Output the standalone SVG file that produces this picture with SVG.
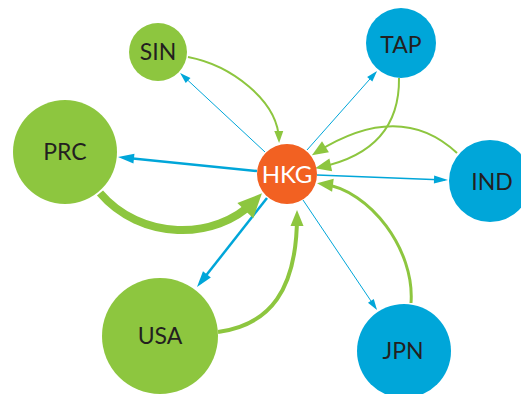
<svg xmlns="http://www.w3.org/2000/svg" width="521" height="394" viewBox="0 0 521 394">
<style>
.g{fill:#8dc63f}
.b{fill:#00a6d9}
.o{fill:#f26122}
text{font-family:Lato,"Open Sans","Liberation Sans",sans-serif;font-size:23px;text-anchor:middle;fill:#231f20}
.w{fill:#ffffff;font-size:24px}
.bl{fill:none;stroke:#00a6d9}
.gl{fill:none;stroke:#8dc63f}
</style>
<defs>
<marker id="bs" markerUnits="userSpaceOnUse" markerWidth="12" markerHeight="8" refX="9" refY="3.5" orient="auto" overflow="visible"><path d="M0,0 L11,3.5 L0,7 z" fill="#00a6d9"/></marker>
<marker id="bm" markerUnits="userSpaceOnUse" markerWidth="15" markerHeight="9" refX="11" refY="4" orient="auto" overflow="visible"><path d="M0,0 L14,4 L0,8 z" fill="#00a6d9"/></marker>
<marker id="bb" markerUnits="userSpaceOnUse" markerWidth="17" markerHeight="11" refX="11" refY="5" orient="auto" overflow="visible"><path d="M0,0 L16,5 L0,10 z" fill="#00a6d9"/></marker>
<marker id="gs" markerUnits="userSpaceOnUse" markerWidth="13" markerHeight="10" refX="9" refY="4.5" orient="auto" overflow="visible"><path d="M0,0 L12,4.5 L0,9 z" fill="#8dc63f"/></marker>
<marker id="gm" markerUnits="userSpaceOnUse" markerWidth="17" markerHeight="14" refX="10" refY="6.5" orient="auto" overflow="visible"><path d="M0,0 L16,6.5 L0,13 z" fill="#8dc63f"/></marker>
<marker id="gb" markerUnits="userSpaceOnUse" markerWidth="25" markerHeight="23" refX="14" refY="11" orient="auto" overflow="visible"><path d="M0,0 L24,11 L0,22 z" fill="#8dc63f"/></marker>
</defs>
<g id="connectors">
<path class="bl" stroke-width="1" d="M265,152 L181.5,74.4" marker-end="url(#bs)"/>
<path class="bl" stroke-width="2.5" d="M257,171 L123,157.5" marker-end="url(#bb)"/>
<path class="bl" stroke-width="1" d="M307,150 L375.7,72.5" marker-end="url(#bs)"/>
<path class="bl" stroke-width="1.5" d="M317,175 L445,179.9" marker-end="url(#bm)"/>
<path class="bl" stroke-width="1" d="M303,200 L375.9,308.3" marker-end="url(#bs)"/>
<path class="bl" stroke-width="2.5" d="M267,198 L200.1,283.1" marker-end="url(#bb)"/>
<path class="gl" stroke-width="2" d="M188,57 C230,65 278,100 279,140" marker-end="url(#gs)"/>
<path class="gl" stroke-width="2" d="M399,78 Q400,150 321,167" marker-end="url(#gm)"/>
<path class="gl" stroke-width="2" d="M457,153 Q400,100 317,152" marker-end="url(#gm)"/>
<path class="gl" stroke-width="3" d="M411,303 C415,250 370,190 323,184" marker-end="url(#gm)"/>
<path class="gl" stroke-width="4" d="M218,332 C270,325 297,290 297,216" marker-end="url(#gm)"/>
<path class="gl" stroke-width="8" d="M100,193 C140,240 215,242 255,200.5" marker-end="url(#gb)"/>
</g>
<g id="SIN"><circle class="g" cx="158" cy="52" r="29"/><text x="158" y="60">SIN</text></g>
<g id="PRC"><circle class="g" cx="65" cy="152" r="52"/><text x="65" y="160">PRC</text></g>
<g id="USA"><circle class="g" cx="160" cy="336" r="58"/><text x="160" y="344">USA</text></g>
<g id="HKG"><circle class="o" cx="287" cy="174" r="30"/><text class="w" x="287" y="183">HKG</text></g>
<g id="TAP"><circle class="b" cx="401" cy="43" r="35"/><text x="401" y="53">TAP</text></g>
<g id="IND"><circle class="b" cx="490" cy="181" r="41"/><text x="492" y="190">IND</text></g>
<g id="JPN"><circle class="b" cx="404" cy="351" r="47"/><text x="403" y="359">JPN</text></g>
</svg>
